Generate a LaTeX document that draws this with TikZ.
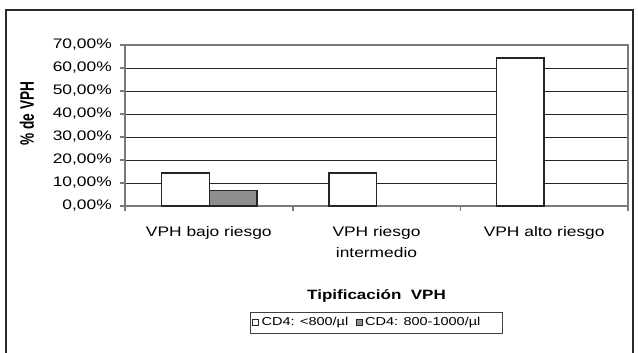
\documentclass[tikz,border=0pt]{standalone}
\usepackage{fontspec}
\setmainfont[FakeStretch=1.26]{Liberation Sans}
\newfontfamily\plainsans{Liberation Sans}
\definecolor{framegray}{HTML}{2A2A2A}
\definecolor{axisgray}{HTML}{7A7A7A}
\definecolor{gridblack}{HTML}{262626}
\definecolor{barfill}{HTML}{8E8E8E}
\begin{document}
\begin{tikzpicture}[x=1pt,y=-1pt,
  frameline/.style={draw=framegray,line width=2pt},
  axisline/.style={draw=axisgray,line width=1.6pt},
  gridline/.style={draw=gridblack,line width=0.9pt},
  barbox/.style={draw=black!85,line width=1.3pt},
  ticklabel/.style={anchor=east,inner sep=0pt,font=\fontsize{13.8}{16}\selectfont},
  catlabel/.style={anchor=north,inner sep=0pt,align=center,font=\fontsize{13.8}{21}\selectfont},
  legtext/.style={anchor=west,inner sep=0pt,font=\fontsize{11.5}{13}\selectfont},
  legmark/.style={draw=black!85,line width=0.8pt,minimum size=6pt,inner sep=0pt}]
\useasboundingbox (0,0) rectangle (638,353);
\fill[white] (0,0) rectangle (638,353);

% outer frame of the chart
\draw[frameline] (6,353) -- (6,10) -- (633,10) -- (633,353);

% horizontal grid lines (10 % ... 60 %)
\foreach \k in {1,...,6}
  \draw[gridline] (125,{206.5-23*\k}) -- (628,{206.5-23*\k});

% plot border, axes and tick marks
\draw[axisline] (125,45) -- (628,45) -- (628,211);
\draw[axisline] (125,211) -- (125,45);
\draw[axisline] (125,206) -- (628,206);
\foreach \k in {0,...,7}
  \draw[axisline] (120,{206-23*\k}) -- (125,{206-23*\k});
\foreach \xx in {292.7,460.3}
  \draw[axisline] (\xx,206) -- (\xx,211);

% bars (value v drawn at 206 - 2.3 v)
\draw[barbox,fill=white]   (161.7,206) rectangle (209.3,{206-2.3*14.29});
\draw[barbox,fill=barfill] (209.3,206) rectangle (257.0,{206-2.3*6.67});
\draw[barbox,fill=white]   (329.0,206) rectangle (376.6,{206-2.3*14.29});
\draw[barbox,fill=white]   (496.4,206) rectangle (544.0,{206-2.3*64.29});

% value axis labels
\foreach \k/\t in {0/0,1/10,2/20,3/30,4/40,5/50,6/60,7/70}
  \node[ticklabel] (yl\k) at (112,{206-23*\k}) {\t,00\%};

% value axis title
\node[rotate=90,inner sep=0pt,font=\plainsans\bfseries\fontsize{13}{16}\selectfont] (ytitle) at (27,113.5)
  {\scalebox{1.05}[1.5]{\% de VPH}};

% category labels
\node[catlabel] (c1) at (208.8,226) {VPH bajo riesgo};
\node[catlabel] (c2) at (376.5,226) {VPH riesgo\\intermedio};
\node[catlabel] (c3) at (544.2,226) {VPH alto riesgo};

% category axis title
\node[inner sep=0pt,font=\bfseries\fontsize{13.5}{16}\selectfont] (xtitle) at (376.5,296)
  {Tipificación\ \ VPH};

% legend
\node[draw=black!75,line width=0.8pt,minimum width=252pt,minimum height=21pt,inner sep=0pt]
  (legend) at (376,322.5) {};
\node[legmark,fill=white]   (m1) at (255.5,322.5) {};
\node[legtext] (t1) at (261.5,322.5) {CD4: <800/µl};
\node[legmark,fill=barfill] (m2) at (359,322.5) {};
\node[legtext] (t2) at (365,322.5) {CD4: 800-1000/µl};
\end{tikzpicture}
\end{document}
